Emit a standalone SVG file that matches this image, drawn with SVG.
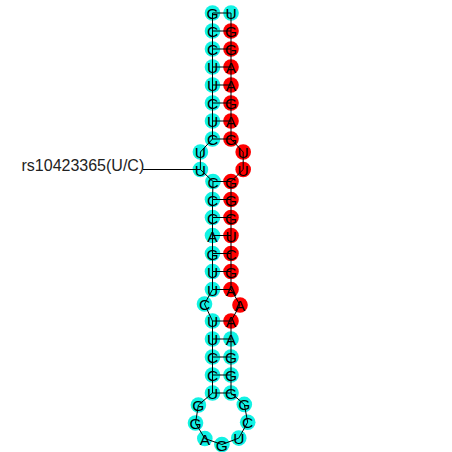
<svg xmlns="http://www.w3.org/2000/svg" width="452" height="452" viewBox="0 0 452 452">
<style>
.n circle{stroke:none}
.c circle{fill:#12f2e4}
.r circle{fill:#ff0000}
.n text{font-family:"Liberation Sans",Arial,sans-serif;font-size:15.5px;fill:#000;text-anchor:middle}
.bb{fill:none;stroke:#000;stroke-width:1}
.bp{stroke:#000;stroke-width:1}
.lbl{font-family:"Liberation Sans",Arial,sans-serif;font-size:16px;fill:#222}
</style>
<rect width="452" height="452" fill="#fff"/>
<g id="circles-layer">
<g id="n1" class="n c"><circle cx="212.5" cy="13" r="7.8"/></g>
<g id="n2" class="n c"><circle cx="212.5" cy="31" r="7.8"/></g>
<g id="n3" class="n c"><circle cx="212.5" cy="49" r="7.8"/></g>
<g id="n4" class="n c"><circle cx="212.5" cy="67" r="7.8"/></g>
<g id="n5" class="n c"><circle cx="212.5" cy="85" r="7.8"/></g>
<g id="n6" class="n c"><circle cx="212.5" cy="103" r="7.8"/></g>
<g id="n7" class="n c"><circle cx="212.5" cy="121" r="7.8"/></g>
<g id="n8" class="n c"><circle cx="212.5" cy="139" r="7.8"/></g>
<g id="n9" class="n c"><circle cx="200.4" cy="152" r="7.8"/></g>
<g id="n10" class="n c"><circle cx="200.4" cy="169.5" r="7.8"/></g>
<g id="n11" class="n c"><circle cx="213" cy="181.5" r="7.8"/></g>
<g id="n12" class="n c"><circle cx="212.5" cy="199.5" r="7.8"/></g>
<g id="n13" class="n c"><circle cx="212.5" cy="217.5" r="7.8"/></g>
<g id="n14" class="n c"><circle cx="212.5" cy="235.5" r="7.8"/></g>
<g id="n15" class="n c"><circle cx="212.5" cy="253.5" r="7.8"/></g>
<g id="n16" class="n c"><circle cx="212.5" cy="271.5" r="7.8"/></g>
<g id="n17" class="n c"><circle cx="212.5" cy="289.5" r="7.8"/></g>
<g id="n18" class="n c"><circle cx="204.5" cy="304" r="7.8"/></g>
<g id="n19" class="n c"><circle cx="212.5" cy="321" r="7.8"/></g>
<g id="n20" class="n c"><circle cx="212.5" cy="339" r="7.8"/></g>
<g id="n21" class="n c"><circle cx="212.5" cy="357" r="7.8"/></g>
<g id="n22" class="n c"><circle cx="212.5" cy="375" r="7.8"/></g>
<g id="n23" class="n c"><circle cx="212.5" cy="393" r="7.8"/></g>
<g id="n24" class="n c"><circle cx="198.4" cy="405" r="7.8"/></g>
<g id="n25" class="n c"><circle cx="195.5" cy="423" r="7.8"/></g>
<g id="n26" class="n c"><circle cx="204.8" cy="438.5" r="7.8"/></g>
<g id="n27" class="n c"><circle cx="221.9" cy="444.5" r="7.8"/></g>
<g id="n28" class="n c"><circle cx="238.8" cy="438.1" r="7.8"/></g>
<g id="n29" class="n c"><circle cx="247.7" cy="422.2" r="7.8"/></g>
<g id="n30" class="n c"><circle cx="244.3" cy="404.4" r="7.8"/></g>
<g id="n31" class="n c"><circle cx="231" cy="393" r="7.8"/></g>
<g id="n32" class="n c"><circle cx="231" cy="375" r="7.8"/></g>
<g id="n33" class="n c"><circle cx="231" cy="357" r="7.8"/></g>
<g id="n34" class="n c"><circle cx="231" cy="339" r="7.8"/></g>
<g id="n35" class="n r"><circle cx="231" cy="321" r="7.8"/></g>
<g id="n36" class="n r"><circle cx="240" cy="305" r="7.8"/></g>
<g id="n37" class="n r"><circle cx="231" cy="289.5" r="7.8"/></g>
<g id="n38" class="n r"><circle cx="231" cy="271.5" r="7.8"/></g>
<g id="n39" class="n r"><circle cx="231" cy="253.5" r="7.8"/></g>
<g id="n40" class="n r"><circle cx="231" cy="235.5" r="7.8"/></g>
<g id="n41" class="n r"><circle cx="231" cy="217.5" r="7.8"/></g>
<g id="n42" class="n r"><circle cx="231" cy="199.5" r="7.8"/></g>
<g id="n43" class="n r"><circle cx="231" cy="181.5" r="7.8"/></g>
<g id="n44" class="n r"><circle cx="243.2" cy="169.5" r="7.8"/></g>
<g id="n45" class="n r"><circle cx="243.2" cy="152" r="7.8"/></g>
<g id="n46" class="n r"><circle cx="231" cy="139" r="7.8"/></g>
<g id="n47" class="n r"><circle cx="231" cy="121" r="7.8"/></g>
<g id="n48" class="n r"><circle cx="231" cy="103" r="7.8"/></g>
<g id="n49" class="n r"><circle cx="231" cy="85" r="7.8"/></g>
<g id="n50" class="n r"><circle cx="231" cy="67" r="7.8"/></g>
<g id="n51" class="n r"><circle cx="231" cy="49" r="7.8"/></g>
<g id="n52" class="n r"><circle cx="231" cy="31" r="7.8"/></g>
<g id="n53" class="n c"><circle cx="231" cy="13" r="7.8"/></g>
</g>
<g id="connectors">
<polyline class="bb" points="212.5,13 212.5,31 212.5,49 212.5,67 212.5,85 212.5,103 212.5,121 212.5,139 200.4,152 200.4,169.5 213,181.5 212.5,199.5 212.5,217.5 212.5,235.5 212.5,253.5 212.5,271.5 212.5,289.5 204.5,304 212.5,321 212.5,339 212.5,357 212.5,375 212.5,393 198.4,405 195.5,423 204.8,438.5 221.9,444.5 238.8,438.1 247.7,422.2 244.3,404.4 231,393 231,375 231,357 231,339 231,321 240,305 231,289.5 231,271.5 231,253.5 231,235.5 231,217.5 231,199.5 231,181.5 243.2,169.5 243.2,152 231,139 231,121 231,103 231,85 231,67 231,49 231,31 231,13"/>
<path class="bp" d="M212.5,13H231M212.5,31H231M212.5,49H231M212.5,67H231M212.5,85H231M212.5,103H231M212.5,121H231M212.5,139H231M213,181.5H231M212.5,199.5H231M212.5,217.5H231M212.5,235.5H231M212.5,253.5H231M212.5,271.5H231M212.5,289.5H231M212.5,321H231M212.5,339H231M212.5,357H231M212.5,375H231M212.5,393H231"/>
<line class="bp" x1="143" y1="169.5" x2="200.4" y2="169.5"/>
</g>
<g id="letters" class="n">
<text x="212.5" y="19">G</text>
<text x="212.5" y="37">C</text>
<text x="212.5" y="55">C</text>
<text x="212.5" y="73">U</text>
<text x="212.5" y="91">U</text>
<text x="212.5" y="109">C</text>
<text x="212.5" y="127">U</text>
<text x="212.5" y="145">C</text>
<text x="200.4" y="158">U</text>
<text x="200.4" y="175.5">U</text>
<text x="213" y="187.5">C</text>
<text x="212.5" y="205.5">C</text>
<text x="212.5" y="223.5">C</text>
<text x="212.5" y="241.5">A</text>
<text x="212.5" y="259.5">G</text>
<text x="212.5" y="277.5">U</text>
<text x="212.5" y="295.5">U</text>
<text x="204.5" y="310">C</text>
<text x="212.5" y="327">U</text>
<text x="212.5" y="345">U</text>
<text x="212.5" y="363">C</text>
<text x="212.5" y="381">C</text>
<text x="212.5" y="399">U</text>
<text x="198.4" y="411">G</text>
<text x="195.5" y="429">G</text>
<text x="204.8" y="444.5">A</text>
<text x="221.9" y="450.5">G</text>
<text x="238.8" y="444.1">U</text>
<text x="247.7" y="428.2">C</text>
<text x="244.3" y="410.4">G</text>
<text x="231" y="399">G</text>
<text x="231" y="381">G</text>
<text x="231" y="363">G</text>
<text x="231" y="345">A</text>
<text x="231" y="327">A</text>
<text x="240" y="311">A</text>
<text x="231" y="295.5">A</text>
<text x="231" y="277.5">G</text>
<text x="231" y="259.5">C</text>
<text x="231" y="241.5">U</text>
<text x="231" y="223.5">G</text>
<text x="231" y="205.5">G</text>
<text x="231" y="187.5">G</text>
<text x="243.2" y="175.5">U</text>
<text x="243.2" y="158">U</text>
<text x="231" y="145">G</text>
<text x="231" y="127">A</text>
<text x="231" y="109">G</text>
<text x="231" y="91">A</text>
<text x="231" y="73">A</text>
<text x="231" y="55">G</text>
<text x="231" y="37">G</text>
<text x="231" y="19">U</text>
</g>
<g id="snp-label">
<text class="lbl" x="21.5" y="170.5">rs10423365(U/C)</text>
</g>
</svg>
